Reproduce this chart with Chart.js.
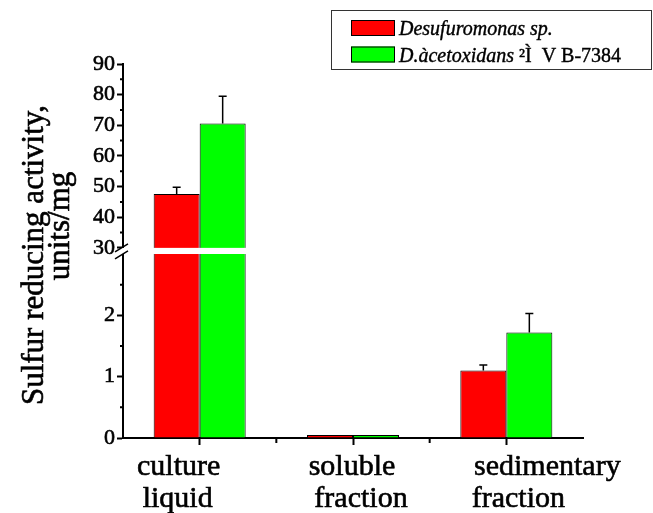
<!DOCTYPE html>
<html>
<head>
<meta charset="utf-8">
<script src="https://cdn.jsdelivr.net/npm/chart.js@4.4.1/dist/chart.umd.min.js"></script>
<style>
  html, body { margin: 0; padding: 0; background: #fff; }
  #wrap { width: 653px; height: 513px; }
</style>
</head>
<body>
<div id="wrap"><canvas id="chart"></canvas></div>
<script>
// values
const categories = [['culture', 'liquid'], ['soluble', 'fraction'], ['sedimentary', 'fraction']];
const seriesNames = ['Desufuromonas sp.', 'D.àcetoxidans'];
const seriesSuffix = ['', '²Ì  V B-7384'];
const desulfuromonas = [47.6, 0.05, 1.10];
const acetoxidans = [70.6, 0.05, 1.72];
const desulfuromonasErr = [2.2, 0, 0.09];
const acetoxidansErr = [8.9, 0, 0.31];
const upperTicks = [30, 40, 50, 60, 70, 80, 90];
const lowerTicks = [0, 1, 2];
const upperMinor = [35, 45, 55, 65, 75, 85];
const lowerMinor = [0.5, 1.5, 2.5];
const yTitle = ['Sulfur reducing activity,', 'units/mg'];

// broken axis: lower part 0..3, upper part 30..90
const LOW_MAX = 3;
const HIGH_MIN = 28;
const BREAK_AT = 30;

const colors = ['#ff0000', '#00ff00'];
const values = [desulfuromonas, acetoxidans];
const errors = [desulfuromonasErr, acetoxidansErr];
const FONT = "'Liberation Serif', 'Times New Roman', serif";

const datasets = [];
values.forEach((vals, s) => {
    datasets.push({
        label: seriesNames[s],
        data: vals.map(v => Math.min(v, LOW_MAX)),
        yAxisID: 'y',
        stack: 'g' + s,
        backgroundColor: colors[s],
        borderColor: '#000',
        borderWidth: ctx => vals[ctx.dataIndex] > LOW_MAX ? {left: 1, right: 1, top: 0, bottom: 0} : 1
    });
});
values.forEach((vals, s) => {
    datasets.push({
        label: seriesNames[s],
        data: vals.map(v => v > BREAK_AT ? v : null),
        yAxisID: 'y2',
        stack: 'g' + s,
        base: HIGH_MIN,
        backgroundColor: colors[s],
        borderColor: '#000',
        borderWidth: 1
    });
});

// horizontal nudges of the category text (the original is hand placed)
const labelShift = [[-21, -22], [-1, 8], [41, 12]];

// fill + thin stroke, the original text is quite heavy
function heavyText(ctx, t, x, y) {
    ctx.fillText(t, x, y);
    ctx.strokeText(t, x, y);
}

const extras = {
    id: 'extras',
    afterDatasetsDraw(chart) {
        const {ctx, chartArea, scales: {y, y2}} = chart;
        ctx.save();
        // white gap across bars
        const gTop = y2.getPixelForValue(BREAK_AT);
        const gBot = y.getPixelForValue(LOW_MAX);
        ctx.fillStyle = '#fff';
        ctx.fillRect(chartArea.left + 2, gTop, chartArea.width, gBot - gTop);

        // error bars (upper half only)
        ctx.strokeStyle = '#000';
        ctx.lineWidth = 1.5;
        values.forEach((vals, s) => {
            const meta = chart.getDatasetMeta(s);
            vals.forEach((v, i) => {
                const e = errors[s][i];
                if (!e) return;
                const sc = v > BREAK_AT ? y2 : y;
                const x = meta.data[i].x;
                const y0 = sc.getPixelForValue(v);
                const y1 = sc.getPixelForValue(v + e);
                ctx.beginPath();
                ctx.moveTo(x, y0); ctx.lineTo(x, y1);
                ctx.moveTo(x - 4, y1); ctx.lineTo(x + 4, y1);
                ctx.stroke();
            });
        });
        ctx.restore();
    },
    afterDraw(chart) {
        const {ctx, chartArea, scales: {x, y, y2}} = chart;
        const ax = chartArea.left;
        ctx.save();
        ctx.strokeStyle = '#000';
        ctx.lineWidth = 2;
        // minor ticks
        ctx.beginPath();
        upperMinor.forEach(v => { const p = y2.getPixelForValue(v); ctx.moveTo(ax - 3, p); ctx.lineTo(ax, p); });
        lowerMinor.forEach(v => { const p = y.getPixelForValue(v); ctx.moveTo(ax - 3, p); ctx.lineTo(ax, p); });
        for (let i = 0; i < categories.length - 1; i++) {
            const p = (x.getPixelForTick(i) + x.getPixelForTick(i + 1)) / 2;
            ctx.moveTo(p, chartArea.bottom); ctx.lineTo(p, chartArea.bottom + 5);
        }
        ctx.stroke();

        // break marks on the axis
        const gTop = y2.getPixelForValue(BREAK_AT);
        const gBot = y.getPixelForValue(LOW_MAX);
        const mid = (gTop + gBot) / 2;
        ctx.fillStyle = '#fff';
        ctx.fillRect(ax - 2, mid - 3, 4, 6);
        ctx.lineWidth = 1.5;
        ctx.beginPath();
        ctx.moveTo(ax - 8, mid + 1); ctx.lineTo(ax + 5, mid - 7);
        ctx.moveTo(ax - 8, mid + 8); ctx.lineTo(ax + 5, mid);
        ctx.stroke();

        // y title
        ctx.fillStyle = '#000';
        ctx.strokeStyle = '#000';
        ctx.lineWidth = 0.6;
        ctx.font = '31px ' + FONT;
        ctx.textAlign = 'center';
        ctx.textBaseline = 'alphabetic';
        ctx.save();
        ctx.translate(43, 255);
        ctx.rotate(-Math.PI / 2);
        heavyText(ctx, yTitle[0], 0, 0);
        ctx.restore();
        ctx.save();
        ctx.translate(69, 226);
        ctx.rotate(-Math.PI / 2);
        heavyText(ctx, yTitle[1], 0, 0);
        ctx.restore();

        // category labels
        ctx.font = '30px ' + FONT;
        categories.forEach((lines, i) => {
            const cx = x.getPixelForTick(i);
            lines.forEach((t, k) => {
                heavyText(ctx, t, cx + labelShift[i][k], chartArea.bottom + 37 + k * 32);
            });
        });

        // legend box
        const bx = 331, by = 10, bw = chart.width - 1 - bx, bh = 59;
        ctx.lineWidth = 1;
        ctx.strokeStyle = '#333';
        ctx.strokeRect(bx + 0.5, by + 0.5, bw - 1, bh);
        ctx.textAlign = 'left';
        seriesNames.forEach((name, s) => {
            const ty = by + 25 + s * 26.5;
            ctx.fillStyle = colors[s];
            ctx.fillRect(bx + 20, ty - 15, 44, 16);
            ctx.strokeStyle = '#000';
            ctx.lineWidth = 1;
            ctx.strokeRect(bx + 20.5, ty - 14.5, 43, 15);
            ctx.fillStyle = '#000';
            ctx.lineWidth = 0.4;
            ctx.font = 'italic 20px ' + FONT;
            heavyText(ctx, name, bx + 68, ty);
            if (seriesSuffix[s]) {
                const w = ctx.measureText(name + ' ').width;
                ctx.font = '20px ' + FONT;
                heavyText(ctx, seriesSuffix[s], bx + 68 + w, ty);
            }
        });
        ctx.restore();
    }
};

const tickStyle = {
    color: '#000',
    padding: 2,
    autoSkip: false,
    textStrokeColor: '#000',
    textStrokeWidth: 0.6,
    font: { family: FONT, size: 22 }
};

new Chart(document.getElementById('chart'), {
    type: 'bar',
    data: {
        labels: categories,
        datasets: datasets
    },
    options: {
        responsive: true,
        maintainAspectRatio: false,
        animation: false,
        layout: { padding: { top: 64, right: 70, left: 0, bottom: 0 } },
        categoryPercentage: 0.6,
        barPercentage: 1,
        plugins: {
            legend: { display: false },
            tooltip: { enabled: false }
        },
        scales: {
            x: {
                offset: true,
                z: 1,
                grid: { offset: false, drawOnChartArea: false, tickLength: 7, tickWidth: 2, tickColor: '#000' },
                border: { color: '#000', width: 2 },
                ticks: { display: false },
                afterFit: s => { s.height = 75; }
            },
            y: {
                type: 'linear',
                position: 'left',
                stack: 'v',
                stackWeight: 184,
                min: 0,
                max: LOW_MAX,
                z: 1,
                afterBuildTicks: s => { s.ticks = lowerTicks.map(v => ({value: v})); },
                grid: { drawOnChartArea: false, tickLength: 6, tickWidth: 2, tickColor: '#000' },
                border: { color: '#000', width: 2 },
                ticks: tickStyle,
                afterFit: s => { s.width = 123; }
            },
            y2: {
                type: 'linear',
                position: 'left',
                stack: 'v',
                stackWeight: 190,
                min: HIGH_MIN,
                max: 90,
                z: 1,
                afterBuildTicks: s => { s.ticks = upperTicks.map(v => ({value: v})); },
                grid: { drawOnChartArea: false, tickLength: 6, tickWidth: 2, tickColor: '#000' },
                border: { color: '#000', width: 2 },
                ticks: tickStyle,
                afterFit: s => { s.width = 123; }
            }
        }
    },
    plugins: [extras]
});
</script>
</body>
</html>
